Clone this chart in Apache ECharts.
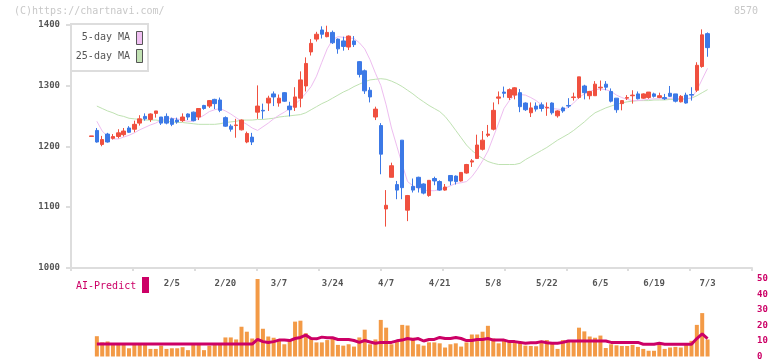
<!DOCTYPE html>
<html><head><meta charset="utf-8">
<script src="https://cdn.jsdelivr.net/npm/echarts@6/dist/echarts.min.js"></script>
<style>html,body{margin:0;padding:0;background:#fff}#c{width:772px;height:361px}</style>
</head><body><div id="c"></div>
<script>
const dates = ['1/15','1/16','1/17','1/20','1/21','1/22','1/23','1/24','1/27','1/28','1/29','1/30','1/31','2/3','2/4','2/5','2/6','2/7','2/10','2/12','2/13','2/14','2/17','2/18','2/19','2/20','2/21','2/25','2/26','2/27','2/28','3/3','3/4','3/5','3/6','3/7','3/10','3/11','3/12','3/13','3/14','3/17','3/18','3/19','3/21','3/24','3/25','3/26','3/27','3/28','3/31','4/1','4/2','4/3','4/4','4/7','4/8','4/9','4/10','4/11','4/14','4/15','4/16','4/17','4/18','4/21','4/22','4/23','4/24','4/25','4/28','4/30','5/1','5/2','5/7','5/8','5/9','5/12','5/13','5/14','5/15','5/16','5/19','5/20','5/21','5/22','5/23','5/26','5/27','5/28','5/29','5/30','6/2','6/3','6/4','6/5','6/6','6/9','6/10','6/11','6/12','6/13','6/16','6/17','6/18','6/19','6/20','6/23','6/24','6/25','6/26','6/27','6/30','7/1','7/2','7/3'];
const labelDates = ['2/5','2/20','3/7','3/24','4/7','4/21','5/8','5/22','6/5','6/19','7/3'];
const open = [1216,1226,1203,1220,1213,1216,1219,1230,1228,1238,1249,1244,1254,1248,1249,1245,1243,1242,1253,1256,1248,1267,1266,1277,1276,1247,1233,1234,1227,1207,1215,1256,1259,1271,1286,1271,1288,1266,1264,1279,1299,1355,1376,1391,1380,1387,1376,1373,1363,1373,1339,1324,1292,1248,1234,1097,1149,1137,1210,1095,1134,1149,1138,1119,1147,1142,1128,1152,1151,1143,1156,1174,1180,1195,1218,1228,1279,1289,1280,1284,1288,1271,1255,1266,1268,1263,1271,1250,1263,1267,1280,1280,1299,1283,1283,1296,1302,1290,1279,1270,1279,1283,1286,1279,1280,1286,1280,1280,1287,1286,1273,1284,1285,1292,1331,1385];
const close = [1217,1207,1211,1207,1216,1222,1225,1223,1236,1245,1245,1253,1258,1238,1238,1236,1240,1248,1248,1242,1262,1262,1275,1270,1259,1233,1228,1235,1243,1221,1207,1266,1258,1279,1281,1279,1274,1260,1281,1309,1336,1369,1384,1384,1387,1370,1360,1364,1381,1367,1318,1291,1281,1261,1187,1103,1168,1128,1132,1119,1128,1132,1123,1144,1143,1128,1133,1143,1142,1157,1170,1176,1202,1210,1220,1259,1281,1287,1293,1296,1265,1260,1263,1261,1262,1264,1255,1258,1258,1266,1281,1314,1288,1290,1302,1297,1297,1274,1260,1275,1280,1284,1278,1286,1289,1282,1283,1278,1282,1274,1282,1271,1284,1333,1383,1362];
const high = [1217,1230,1217,1222,1220,1228,1230,1233,1242,1251,1254,1254,1258,1248,1254,1247,1247,1254,1254,1257,1262,1268,1276,1278,1280,1249,1236,1245,1244,1224,1222,1300,1270,1283,1290,1285,1289,1273,1297,1323,1346,1376,1388,1397,1398,1390,1377,1380,1382,1381,1340,1326,1297,1265,1238,1128,1173,1143,1210,1120,1147,1150,1139,1144,1150,1144,1138,1152,1152,1157,1171,1179,1219,1225,1235,1272,1290,1298,1295,1297,1294,1272,1272,1272,1272,1272,1272,1259,1265,1279,1288,1314,1301,1291,1307,1308,1307,1295,1279,1276,1284,1292,1290,1287,1289,1288,1288,1286,1299,1286,1284,1288,1297,1338,1392,1387];
const low = [1216,1206,1200,1206,1211,1213,1216,1222,1223,1234,1242,1240,1247,1235,1236,1233,1237,1240,1243,1241,1243,1260,1263,1261,1256,1232,1224,1214,1226,1205,1202,1245,1245,1258,1266,1265,1273,1249,1258,1264,1290,1349,1372,1377,1379,1368,1352,1357,1358,1363,1313,1286,1272,1243,1154,1068,1149,1113,1113,1077,1124,1124,1121,1117,1136,1127,1127,1136,1137,1142,1155,1166,1179,1193,1215,1226,1269,1280,1276,1277,1256,1258,1248,1257,1257,1250,1252,1247,1255,1263,1275,1278,1277,1277,1283,1291,1292,1272,1255,1259,1276,1270,1277,1278,1278,1280,1279,1276,1281,1272,1272,1270,1275,1289,1329,1347];
const ma5 = [null,1241,1225,1216,1212,1212,1215,1218,1222,1227,1231,1235,1238,1243,1246,1246,1245,1243,1241,1241,1246,1251,1257,1260,1262,1258,1253,1247,1241,1236,1230,1226,1232,1238,1245,1251,1256,1262,1269,1277,1287,1298,1315,1338,1360,1375,1380,1379,1378,1377,1370,1360,1342,1320,1300,1268,1230,1200,1170,1142,1135,1131,1128,1127,1127,1129,1131,1135,1139,1140,1142,1150,1162,1176,1192,1215,1238,1262,1275,1284,1285,1284,1280,1275,1268,1263,1262,1261,1260,1264,1271,1280,1286,1290,1293,1294,1293,1290,1284,1280,1277,1275,1275,1276,1277,1278,1278,1278,1279,1279,1278,1278,1279,1292,1310,1328];
const ma25 = [null,1266,1262,1258,1255,1251,1249,1246,1245,1244,1243,1243,1243,1242,1241,1240,1239,1239,1238,1237,1236,1236,1236,1236,1237,1239,1240,1241,1243,1243,1243,1244,1244,1245,1246,1248,1249,1250,1251,1252,1255,1260,1265,1270,1274,1279,1284,1289,1293,1298,1302,1306,1309,1310,1311,1310,1307,1303,1298,1292,1286,1279,1273,1267,1262,1257,1249,1238,1226,1214,1202,1193,1186,1180,1175,1172,1170,1170,1170,1170,1172,1178,1183,1188,1193,1198,1204,1210,1215,1220,1226,1233,1240,1248,1255,1259,1263,1266,1269,1271,1273,1274,1275,1275,1275,1276,1276,1276,1277,1277,1277,1278,1279,1283,1288,1293];
const volume = [null,13.1,9.1,9.7,7.9,7.9,7.9,5.3,7.9,7.9,7.9,4.9,4.9,7.0,4.9,5.3,5.3,6.0,4.1,7.9,7.9,4.1,7.0,7.9,7.9,12.3,12.3,11.0,19.2,16.0,11.6,50.0,17.9,12.9,12.1,10.8,7.9,10.6,22.5,23.1,15.0,12.1,9.1,9.1,10.6,11.6,7.5,7.0,7.9,6.4,12.3,17.3,7.9,11.0,23.6,18.6,7.9,10.6,20.4,20.0,12.1,7.9,7.0,9.1,9.1,8.5,5.8,7.9,8.5,6.4,9.1,14.2,14.2,16.0,19.8,11.6,8.5,11.0,10.1,9.1,9.1,7.0,6.8,6.6,9.1,10.6,9.1,4.9,10.6,10.1,9.6,18.6,16.2,12.9,12.1,13.5,5.5,7.9,7.2,6.8,6.8,7.5,6.2,4.9,3.7,3.7,7.9,4.9,5.8,6.2,5.8,7.5,10.1,20.4,28.0,11.0];
const aiPredict = [null,8,8,8,8,8,8,8,8,8,8,8,8,8,8,8,8,8,8,8,8,8,8,8,8,8,8,8,8,8,8,11,9.6,9.1,9.6,10.6,10.6,10.3,11.6,12.3,13.8,11.6,11.4,12.5,12.1,12.1,11,11,11,10.3,9.1,10.3,9.4,8.5,9.1,9.1,9.1,10.1,10.6,11.6,11,11.6,10,11,11,12.3,11.6,11.6,12.3,11.6,10.3,10.3,11,11,11.6,10.6,10.6,10.6,9.6,9.6,9.1,8.5,8.9,8.9,9.6,8.9,8.5,8.5,9.1,10,10,10,10,10,10,10,10,9.1,9.1,9.1,9.1,9.1,9.1,7.9,7.9,7.9,8.5,7.9,7.9,7.9,7.9,7.9,7.9,11.6,14.6,11.6];
const priceMin = 1000, priceMax = 1400, priceStep = 100;
const predMin = 0, predMax = 50, predStep = 10;

// layout
const PAD_L = 4, PAD_R = 8, SLOT = 5.357, FIRST_X = 91.5;
const cats = Array(PAD_L).fill('').concat(dates, Array(PAD_R).fill(''));
const gLeft = FIRST_X - (PAD_L + 0.5) * SLOT;
const gWidth = cats.length * SLOT;
const FONT = 'DejaVu Sans Mono';

const candle = dates.map((d, i) => [i + PAD_L, open[i], close[i], low[i], high[i]]);
const pairs = arr => arr.map((v, i) => v == null ? null : [i + PAD_L, v]).filter(x => x);

const chart = echarts.init(document.getElementById('c'), null, {renderer: 'canvas'});
chart.setOption({
  animation: false,
  backgroundColor: '#fff',
  grid: [
    {left: gLeft, top: 24.5, width: gWidth, height: 243.5},
    {left: gLeft, top: 279, width: gWidth, height: 79.5},
    {left: 71, top: 24.5, width: 681, height: 243.5}
  ],
  xAxis: [
    {type: 'category', gridIndex: 0, data: cats, boundaryGap: true,
     axisLine: {show: false}, axisTick: {show: false}, splitLine: {show: false},
     axisLabel: {interval: (idx, val) => labelDates.includes(val), margin: 11, fontFamily: FONT, fontSize: 9, color: '#555', fontWeight: 'bold'}},
    {type: 'category', gridIndex: 1, data: cats, boundaryGap: true, show: false},
    {type: 'value', gridIndex: 2, min: 0, max: 11, interval: 1,
     axisLine: {show: true, lineStyle: {color: '#ddd', width: 2}},
     axisTick: {show: true, length: 3, lineStyle: {color: '#ddd', width: 2}},
     axisLabel: {show: false}, splitLine: {show: false}}
  ],
  yAxis: [
    {type: 'value', gridIndex: 0, min: priceMin, max: priceMax, interval: priceStep, show: false},
    {type: 'value', gridIndex: 1, min: predMin, max: predMax, interval: predStep, position: 'right',
     axisLine: {show: false}, axisTick: {show: false}, splitLine: {show: false},
     axisLabel: {margin: 4, fontFamily: FONT, fontSize: 9, color: '#cc0066', fontWeight: 'bold'}},
    {type: 'value', gridIndex: 2, min: priceMin, max: priceMax, interval: priceStep,
     axisLine: {show: true, lineStyle: {color: '#ddd', width: 2}},
     axisTick: {show: true, length: 5, lineStyle: {color: '#ddd', width: 2}},
     splitLine: {show: false},
     axisLabel: {margin: 11, fontFamily: FONT, fontSize: 9, color: '#555', fontWeight: 'bold', formatter: v => String(v)}}
  ],
  series: [
    {type: 'line', xAxisIndex: 0, yAxisIndex: 0, data: pairs(ma25), symbol: 'none',
     lineStyle: {color: '#bfe2b2', width: 1}, z: 2},
    {type: 'line', xAxisIndex: 0, yAxisIndex: 0, data: pairs(ma5), symbol: 'none',
     lineStyle: {color: '#eebdf0', width: 1}, z: 2},
    {type: 'candlestick', xAxisIndex: 0, yAxisIndex: 0, data: candle,
     encode: {x: 0, y: [1, 2, 3, 4]}, barWidth: 4,
     itemStyle: {color: '#f0503f', color0: '#3c79e6', borderColor: '#f0503f', borderColor0: '#3c79e6', borderWidth: 1}, z: 3},
    {type: 'bar', xAxisIndex: 1, yAxisIndex: 1, data: pairs(volume), barWidth: 4,
     itemStyle: {color: '#f39a46'}},
    {type: 'line', xAxisIndex: 1, yAxisIndex: 1, data: pairs(aiPredict), symbol: 'none',
     lineStyle: {color: '#cc0066', width: 3}, z: 4}
  ],
  graphic: [
    {type: 'text', left: 14, top: 6, style: {text: '(C)https://chartnavi.com/', fontFamily: FONT, fontSize: 10, fill: '#c8c8c8'}},
    {type: 'text', right: 14, top: 6, style: {text: '8570', fontFamily: FONT, fontSize: 10, fill: '#c8c8c8'}},
    {type: 'rect', shape: {x: 71, y: 24, width: 77, height: 47}, style: {fill: '#fff', stroke: '#ddd', lineWidth: 2}, z: 10},
    {type: 'text', x: 130, y: 37, style: {text: '5-day MA', fontFamily: FONT, fontSize: 10, fill: '#555', align: 'right', verticalAlign: 'middle'}, z: 11},
    {type: 'text', x: 130, y: 56, style: {text: '25-day MA', fontFamily: FONT, fontSize: 10, fill: '#555', align: 'right', verticalAlign: 'middle'}, z: 11},
    {type: 'rect', shape: {x: 136.5, y: 31.5, width: 6, height: 13}, style: {fill: '#f0c0f2', stroke: '#555', lineWidth: 1}, z: 11},
    {type: 'rect', shape: {x: 136.5, y: 49.5, width: 6, height: 13}, style: {fill: '#c2e2b4', stroke: '#555', lineWidth: 1}, z: 11},
    {type: 'text', x: 76, y: 286, style: {text: 'AI-Predict', fontFamily: FONT, fontSize: 10, fill: '#cc0066', verticalAlign: 'middle'}, z: 11},
    {type: 'rect', shape: {x: 142, y: 277, width: 7, height: 16}, style: {fill: '#cc0066'}, z: 11}
  ]
});
</script></body></html>
